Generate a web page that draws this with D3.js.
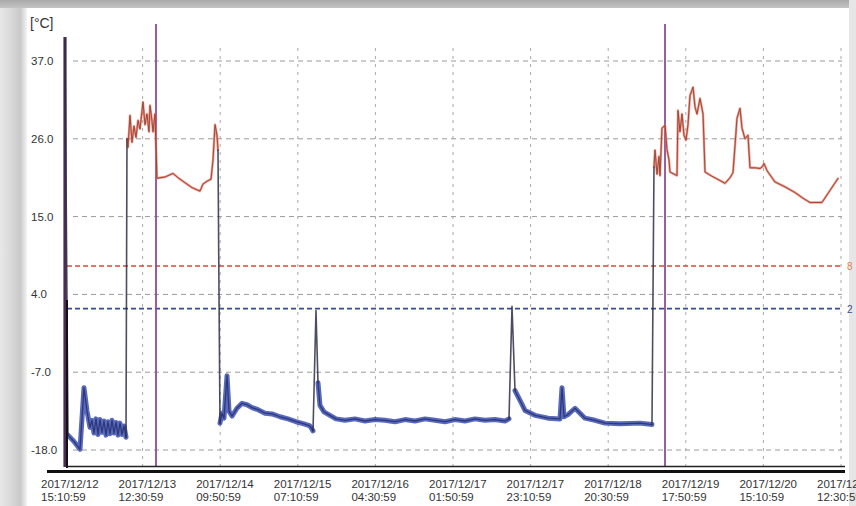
<!DOCTYPE html>
<html><head><meta charset="utf-8">
<script src="https://cdn.jsdelivr.net/npm/d3@7"></script>
<style>
html,body{margin:0;padding:0;background:#fff;}
svg{display:block;font-family:"Liberation Sans",Arial,sans-serif;}
</style></head>
<body><svg id="c" width="856" height="506"></svg>
<script>
// ---- data ----
const startTime = new Date(2017, 11, 12, 15, 10, 59);
const tickStepHours = 21 + 20/60;
const tickCount = 11;
const yTicks = [37, 26, 15, 4, -7, -18];
const upperLimit = 8;
const lowerLimit = 2;
const markerHours = [0, 25.02, 164.95];

const readingHours = [0,0.82,2.47,4.12,5.22,6.05,6.87,7.42,7.97,8.52,9.07,9.62,10.17,10.72,11.27,11.82,12.37,12.92,13.47,14.02,14.57,15.12,15.67,16.22,16.77,
 17.04,17.32,17.87,18.42,18.97,19.52,20.07,20.62,21.44,21.99,22.54,23.09,23.37,23.92,24.19,24.74,25.29,26.12,27.49,29.69,31.07,32.99,34.91,37.11,37.94,39.04,40.14,40.69,41.24,41.79,42.06,
 42.34,42.61,43.16,43.71,44.54,45.09,45.91,47.28,48.66,50.03,51.41,53.06,54.98,56.91,59.11,61.30,63.50,65.70,67.35,68.18,69.00,69.55,70.10,71.20,72.85,74.50,76.97,79.72,82.47,85.22,87.97,90.72,93.47,96.22,98.97,101.72,104.47,107.21,109.96,112.71,115.46,118.21,120.96,122.06,
 122.89,123.71,125.09,126.46,129.21,132.78,136.08,136.63,137.18,138.28,140.21,141.58,142.96,145.70,148.45,152.58,158.08,161.37,
 161.92,162.20,162.75,163.30,163.57,164.12,164.95,165.50,166.05,166.32,168.25,168.52,169.07,169.62,170.17,170.72,171.27,171.82,172.65,173.20,173.75,174.57,175.40,175.95,177.87,180.07,181.44,182.82,183.64,184.19,184.74,185.57,186.12,186.94,187.77,188.32,189.69,191.07,191.62,192.17,192.99,195.19,197.94,200.69,202.89,204.81,208.11,210.31,212.51];
const readingTemps = [40,-15.9,-16.8,-17.9,-9.2,-12.5,-14.8,-13.8,-15.6,-13.6,-15.8,-13.7,-15.5,-13.9,-15.9,-14.0,-15.7,-13.8,-15.6,-14.1,-15.9,-14.2,-15.8,-14.6,-16.2,
 26,24.8,29.3,25.5,27.8,26.2,28.6,27.4,31.2,28.0,29.5,27.0,30.7,28.5,27.0,29.5,20.4,20.5,20.6,21.1,20.5,19.8,19.1,18.6,19.6,20.0,20.3,23,28.0,26.5,24.4,
 4,-14.2,-12.8,-13.5,-7.5,-12.5,-13.2,-12.1,-11.4,-11.6,-12.0,-12.3,-12.8,-12.9,-13.3,-13.6,-14.0,-14.3,-14.6,-15.3,1.7,-8.5,-11.7,-12.6,-13.1,-13.6,-13.8,-13.6,-13.9,-13.7,-13.8,-14.0,-13.7,-13.9,-13.6,-13.8,-14.0,-13.7,-13.9,-13.6,-13.8,-13.7,-13.9,-13.6,
 2.3,-9.6,-11.0,-12.4,-13.1,-13.5,-13.6,-9.2,-13.3,-13.0,-12.1,-12.8,-13.5,-13.8,-14.2,-14.3,-14.2,-14.4,
 22,24.4,21,23.5,20.8,27.5,27.9,24.5,23,21.3,20.8,30,27,29.5,26.5,25.8,28,32.1,33.3,30.5,29.5,31.7,29.5,21.3,20.7,20.1,19.7,20.5,21.2,25,28.9,30.3,27.5,26.0,26.5,21.9,21.9,21.8,22.0,22.5,21.5,19.9,19.2,18.4,17.6,17.0,17.0,18.7,20.4];

// ---- chart ----
const svg = d3.select("#c");
const H = 3600e3;
const endTime = new Date(+startTime + (tickCount-1)*tickStepHours*H);
const x = d3.scaleTime().domain([startTime, endTime]).range([65, 841]);
const y = d3.scaleLinear().domain([-18, 37]).range([450, 61]);

// photo-like frame edges
const defs = svg.append("defs");
const lg = defs.append("linearGradient").attr("id","lg").attr("x1","0").attr("x2","1");
lg.append("stop").attr("offset","0").attr("stop-color","#e8e8e8");
lg.append("stop").attr("offset","0.4").attr("stop-color","#d9d9d9");
lg.append("stop").attr("offset","0.75").attr("stop-color","#c9c9c9");
lg.append("stop").attr("offset","1").attr("stop-color","#f4f4f4");
svg.append("rect").attr("x",0).attr("y",0).attr("width",27).attr("height",506).attr("fill","url(#lg)");
const tg = defs.append("linearGradient").attr("id","tg").attr("x1","0").attr("x2","0").attr("y1","0").attr("y2","1");
tg.append("stop").attr("offset","0").attr("stop-color","#a9a9a9");
tg.append("stop").attr("offset","1").attr("stop-color","#c4c4c4");
svg.append("rect").attr("x",0).attr("y",0).attr("width",856).attr("height",8).attr("fill","url(#tg)");
svg.append("rect").attr("x",849).attr("y",0).attr("width",7).attr("height",506).attr("fill","#e6e6e6");

const xTickDates = d3.range(tickCount).map(k => new Date(+startTime + k*tickStepHours*H));

// vertical grid
svg.append("g").selectAll("line").data(xTickDates.slice(1)).join("line")
  .attr("x1", d=>x(d)).attr("x2", d=>x(d)).attr("y1", 48).attr("y2", 466)
  .attr("stroke","#a8a8a8").attr("stroke-width",1).attr("stroke-dasharray","3,5");
// horizontal grid
svg.append("g").selectAll("line").data(yTicks).join("line")
  .attr("x1", 73).attr("x2", 842).attr("y1", d=>y(d)).attr("y2", d=>y(d))
  .attr("stroke","#9a9a9a").attr("stroke-width",1).attr("stroke-dasharray","5,4");

// limit lines
svg.append("line").attr("x1",67).attr("x2",842).attr("y1",y(upperLimit)).attr("y2",y(upperLimit))
  .attr("stroke","#d8493f").attr("stroke-width",1.5).attr("stroke-dasharray","5,3");
svg.append("line").attr("x1",67).attr("x2",842).attr("y1",y(lowerLimit)).attr("y2",y(lowerLimit))
  .attr("stroke","#3c4a92").attr("stroke-width",1.8).attr("stroke-dasharray","5,3");
svg.append("text").attr("x",847).attr("y",y(upperLimit)+4).attr("font-size",10).attr("fill","#e0804a").text(upperLimit);
svg.append("text").attr("x",847).attr("y",y(lowerLimit)+4).attr("font-size",10).attr("fill","#3c4a92").text(lowerLimit);

// markers
svg.append("g").selectAll("line").data(markerHours).join("line")
  .attr("x1", d=>x(new Date(+startTime+d*H))).attr("x2", d=>x(new Date(+startTime+d*H)))
  .attr("y1", (d,i)=> i===0 ? 37 : 24).attr("y2", 467)
  .attr("stroke", (d,i)=> i===0 ? "#4a2d52" : "#8e4b98").attr("stroke-width", (d,i)=> i===0 ? 3.2 : 1.8);

// data
const pts = readingHours.map((h,i)=>({t:new Date(+startTime+h*H), v:readingTemps[i]}));
const line = d3.line().x(d=>x(d.t)).y(d=>y(d.v));
function cat(a,b){ if(a.v>upperLimit && b.v>upperLimit) return "r"; if(a.v<-5 && b.v<-5) return "b"; return "k"; }
const runs = [];
for(let i=0;i<pts.length-1;i++){
  const c = cat(pts[i],pts[i+1]);
  if(runs.length && runs[runs.length-1].c===c) runs[runs.length-1].p.push(pts[i+1]);
  else runs.push({c, p:[pts[i],pts[i+1]]});
}
const halo = {r:{c:"#ee6a55",w:2.4,o:0.7}, b:{c:"#3c4fb0",w:5,o:0.85}, k:{c:"#444",w:1.4,o:0}};
const core = {r:{c:"#8a3f30",w:1}, b:{c:"#26306f",w:1.3}, k:{c:"#2e2e45",w:1.6}};
const gd = svg.append("g").attr("fill","none").attr("stroke-linejoin","round").attr("stroke-linecap","round");
runs.forEach(r=>{ if(halo[r.c].o>0) gd.append("path").attr("d",line(r.p)).attr("stroke",halo[r.c].c).attr("stroke-width",halo[r.c].w).attr("stroke-opacity",halo[r.c].o); });
runs.forEach(r=>{ gd.append("path").attr("d",line(r.p)).attr("stroke",core[r.c].c).attr("stroke-width",core[r.c].w).attr("stroke-opacity",0.85); });

// axes frame
svg.append("line").attr("x1",67).attr("x2",67).attr("y1",300).attr("y2",468).attr("stroke","#111").attr("stroke-width",2);
svg.append("line").attr("x1",67).attr("x2",845).attr("y1",466.5).attr("y2",466.5).attr("stroke","#222").attr("stroke-width",1.5);
svg.append("line").attr("x1",47).attr("x2",845).attr("y1",471.5).attr("y2",471.5).attr("stroke","#111").attr("stroke-width",3);

// y labels
svg.append("g").selectAll("text").data(yTicks).join("text")
  .attr("x",31).attr("y",d=>y(d)+4).attr("font-size",11.5).attr("fill","#333").text(d=>d.toFixed(1));
svg.append("text").attr("x",30).attr("y",28).attr("font-size",14).attr("fill","#333").text("[°C]");

// x labels
const f1 = d3.timeFormat("%Y/%m/%d"), f2 = d3.timeFormat("%H:%M:%S");
const xl = svg.append("g").selectAll("text").data(xTickDates).join("text")
  .attr("font-size",11.5).attr("fill","#333");
xl.append("tspan").attr("x",d=>x(d)-24).attr("y",488).text(d=>f1(d));
xl.append("tspan").attr("x",d=>x(d)-24).attr("y",501).text(d=>f2(d));
</script></body></html>
